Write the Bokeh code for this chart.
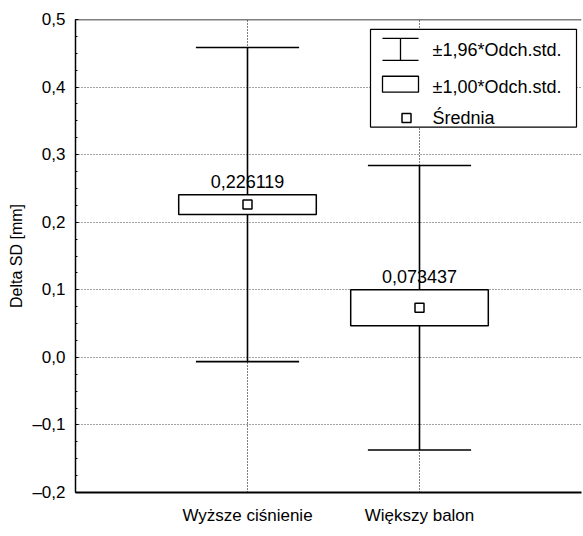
from bokeh.plotting import figure
from bokeh.models import (Range1d, FixedTicker, SingleIntervalTicker, CustomJSTickFormatter,
                          Span)
from bokeh.core.properties import value
from bokeh.embed import file_html
from bokeh.resources import INLINE

# ---- data ----
categories = ["Wyższe ciśnienie", "Większy balon"]
cat_pos = [1, 2]
means = [0.226119, 0.073437]
box_lo = [0.2114, 0.0469]
box_hi = [0.2408, 0.0999]
whisk_lo = [-0.0063, -0.1371]
whisk_hi = [0.4585, 0.2839]
legend_labels = ["±1,96*Odch.std.", "±1,00*Odch.std.", "Średnia"]
y_label = "Delta SD [mm]"

FNAME = "Liberation Sans"
FONT = value(FNAME)
BL, BR, BT, BB = 75, 1, 19, 33
FW, FH = 506, 475
W, H = BL + FW + BR, BT + FH + BB

p = figure(width=W, height=H,
           x_range=Range1d(0, FW / 172.0), y_range=Range1d(-0.2, 0.5),
           output_backend="svg", toolbar_location=None,
           min_border_left=BL, min_border_top=BT, min_border_right=BR, min_border_bottom=BB)
p.outline_line_color = None
p.background_fill_color = "white"
p.border_fill_color = "white"

# axes
yax = p.yaxis[0]
yax.ticker = SingleIntervalTicker(interval=0.1, num_minor_ticks=4)
yax.formatter = CustomJSTickFormatter(code="""
    var s = Math.abs(tick).toFixed(1).replace('.', ',');
    return (tick < -1e-9 ? '\u2013' : '') + s;
""")
yax.axis_label = y_label
yax.axis_label_text_font = FNAME
yax.axis_label_text_font_size = "16px"
yax.axis_label_text_font_style = "normal"
yax.axis_label_text_color = "black"
yax.axis_label_standoff = 4
yax.major_label_text_font = FNAME
yax.major_label_text_font_size = "17px"
yax.major_label_text_color = "black"
yax.major_label_standoff = 10
yax.major_tick_in = 3
yax.major_tick_out = 0
yax.minor_tick_in = 2
yax.minor_tick_out = 0
yax.axis_line_width = 1.5
yax.axis_line_color = "black"
yax.major_tick_line_color = "black"
yax.minor_tick_line_color = "black"

xax = p.xaxis[0]
xax.ticker = FixedTicker(ticks=cat_pos)
xax.major_label_overrides = {c: n for c, n in zip(cat_pos, categories)}
xax.major_label_text_font = FNAME
xax.major_label_text_font_size = "17px"
xax.major_label_text_color = "black"
xax.major_label_standoff = 13
xax.major_tick_in = 0
xax.major_tick_out = 0
xax.minor_tick_in = 0
xax.minor_tick_out = 0
xax.axis_line_width = 2
xax.axis_line_color = "black"

# grids
p.ygrid.ticker = SingleIntervalTicker(interval=0.1)
p.ygrid.grid_line_color = "#444444"
p.ygrid.grid_line_dash = "1 2"
p.ygrid.grid_line_width = 1
p.xgrid.ticker = FixedTicker(ticks=cat_pos)
p.xgrid.grid_line_color = "black"
p.xgrid.grid_line_dash = "1 2"
p.xgrid.grid_line_width = 1

# top frame line
p.add_layout(Span(location=0.5, dimension="width", line_color="black", line_width=1.5))

# whiskers
cap_half = 0.3
box_half = 0.4
p.segment(x0=cat_pos, x1=cat_pos, y0=whisk_lo, y1=whisk_hi, line_color="black", line_width=1.6)
p.segment(x0=[c - cap_half for c in cat_pos], x1=[c + cap_half for c in cat_pos],
          y0=whisk_hi, y1=whisk_hi, line_color="black", line_width=1.6)
p.segment(x0=[c - cap_half for c in cat_pos], x1=[c + cap_half for c in cat_pos],
          y0=whisk_lo, y1=whisk_lo, line_color="black", line_width=1.6)
# boxes
p.quad(left=[c - box_half for c in cat_pos], right=[c + box_half for c in cat_pos],
       bottom=box_lo, top=box_hi, fill_color="white", line_color="black", line_width=1.5)
# means
p.scatter(x=cat_pos, y=means, marker="square", size=9, fill_color="white",
          line_color="black", line_width=1.5)
# value labels
p.text(x=cat_pos, y=box_hi, text=[f"{m:.6f}".replace(".", ",") for m in means],
       text_align="center", text_baseline="alphabetic", y_offset=-13,
       text_font=FONT, text_font_size="18px", text_color="black")

# ---- custom legend in frame-pixel coordinates ----
p.extra_x_ranges = {"px": Range1d(0, FW)}
p.extra_y_ranges = {"py": Range1d(0, FH)}
LG = dict(x_range_name="px", y_range_name="py")
p.quad(left=[295], right=[501], bottom=[367], top=[465], fill_color="white",
       line_color="black", line_width=1.2, **LG)
# whisker icon
p.segment(x0=[307, 307, 325], x1=[343, 343, 325], y0=[456, 434, 434], y1=[456, 434, 456],
          line_color="black", line_width=1.3, **LG)
# box icon
p.quad(left=[307], right=[343], bottom=[402], top=[418], fill_color="white",
       line_color="black", line_width=1.3, **LG)
# mean icon
p.scatter(x=[331], y=[376], marker="square", size=9, fill_color="white",
          line_color="black", line_width=1.5, **LG)
p.text(x=[357, 357, 357], y=[444, 407, 376], text=legend_labels, text_align="left",
       text_baseline="middle", text_font=FONT, text_font_size="18px", text_color="black", **LG)

open("out.html", "w").write(file_html(p, INLINE))
